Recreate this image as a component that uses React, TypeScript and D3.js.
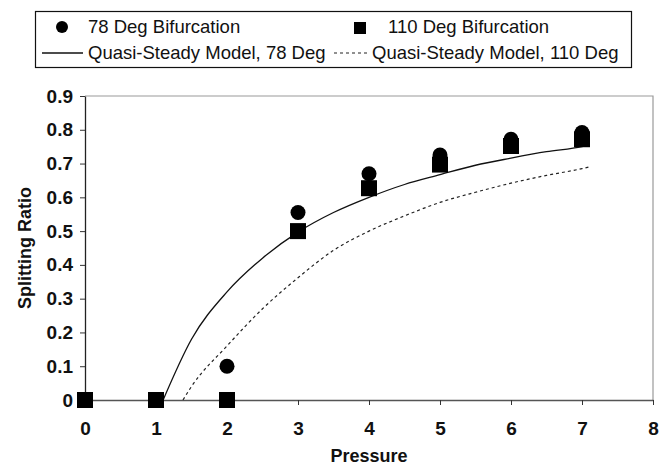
import React, { useEffect, useRef } from 'react';
import * as d3 from 'd3';

// measured splitting ratio vs pressure
const pressures = [0, 1, 2, 3, 4, 5, 6, 7];
const ratio78 = [0, 0, 0.1, 0.555, 0.67, 0.725, 0.772, 0.792];
const ratio110 = [0, 0, 0, 0.5, 0.627, 0.697, 0.752, 0.772];

// quasi-steady model curves
const model78X = [1.1, 1.5, 2, 2.5, 3, 3.5, 4, 4.5, 5, 5.5, 6, 6.5, 7, 7.1];
const model78Y = [0, 0.18, 0.32, 0.42, 0.497, 0.555, 0.6, 0.638, 0.667, 0.695, 0.716, 0.735, 0.75, 0.755];
const model110X = [1.38, 1.5, 2, 2.5, 3, 3.5, 4, 4.5, 5, 5.5, 6, 6.5, 7, 7.1];
const model110Y = [0, 0.04, 0.16, 0.27, 0.362, 0.443, 0.5, 0.545, 0.585, 0.615, 0.642, 0.665, 0.685, 0.69];

const xTicks = [0, 1, 2, 3, 4, 5, 6, 7, 8];
const yTicks = [0, 0.1, 0.2, 0.3, 0.4, 0.5, 0.6, 0.7, 0.8, 0.9];

const App = () => {
  const ref = useRef<SVGSVGElement>(null);

  useEffect(() => {
    const svg = d3.select(ref.current);
    svg.selectAll('*').remove();

    const width = 667;
    const height = 466;
    const margin = { top: 96, right: 14, bottom: 66, left: 85 };
    const font = 'Arial, "Liberation Sans", sans-serif';

    svg.attr('width', width).attr('height', height);

    const x = d3.scaleLinear().domain([0, 8]).range([margin.left, width - margin.right]);
    const y = d3.scaleLinear().domain([0, 0.9]).range([height - margin.bottom, margin.top]);

    // plot area border (top / right)
    svg.append('path')
      .attr('d', `M${x(0)},${y(0.9)}H${x(8)}V${y(0)}`)
      .attr('fill', 'none')
      .attr('stroke', '#9a9a9a')
      .attr('stroke-width', 1.2);

    const yAxis = svg.append('g')
      .attr('transform', `translate(${x(0)},0)`)
      .call(d3.axisLeft(y).tickValues(yTicks).tickSize(5).tickSizeOuter(0).tickPadding(7)
        .tickFormat(d => (d === 0 ? '0' : d3.format('.1f')(d as number))));
    yAxis.select('.domain').attr('stroke', '#222').attr('stroke-width', 1.3);
    yAxis.selectAll('line').attr('stroke', '#333');
    yAxis.selectAll('text')
      .style('font-family', font)
      .style('font-size', '19px')
      .style('font-weight', 'bold')
      .attr('fill', '#111');

    const xAxis = svg.append('g')
      .attr('transform', `translate(0,${y(0)})`)
      .call(d3.axisBottom(x).tickValues(xTicks).tickSize(5).tickSizeOuter(0).tickPadding(17));
    xAxis.select('.domain').attr('stroke', '#555').attr('stroke-width', 1.5);
    xAxis.selectAll('line').attr('stroke', '#333');
    xAxis.selectAll('text')
      .style('font-family', font)
      .style('font-size', '19px')
      .style('font-weight', 'bold')
      .attr('fill', '#111');

    // axis titles
    svg.append('text')
      .attr('x', (x(0) + x(8)) / 2)
      .attr('y', 462)
      .attr('text-anchor', 'middle')
      .style('font-family', font)
      .style('font-size', '18px')
      .style('font-weight', 'bold')
      .attr('fill', '#111')
      .text('Pressure');

    svg.append('text')
      .attr('transform', `translate(31,${(y(0) + y(0.9)) / 2}) rotate(-90)`)
      .attr('text-anchor', 'middle')
      .style('font-family', font)
      .style('font-size', '18px')
      .style('font-weight', 'bold')
      .attr('fill', '#111')
      .text('Splitting Ratio');

    // model curves
    const line = d3.line<[number, number]>()
      .x(d => x(d[0]))
      .y(d => y(d[1]))
      .curve(d3.curveMonotoneX);

    svg.append('path')
      .datum(model78X.map((v, i) => [v, model78Y[i]] as [number, number]))
      .attr('d', line)
      .attr('fill', 'none')
      .attr('stroke', '#111')
      .attr('stroke-width', 1.3);

    svg.append('path')
      .datum(model110X.map((v, i) => [v, model110Y[i]] as [number, number]))
      .attr('d', line)
      .attr('fill', 'none')
      .attr('stroke', '#222')
      .attr('stroke-width', 1.2)
      .attr('stroke-dasharray', '3,3');

    // measured points: circles first, squares over them
    svg.append('g')
      .selectAll('circle')
      .data(pressures)
      .enter()
      .append('circle')
      .attr('cx', d => x(d))
      .attr('cy', (d, i) => y(ratio78[i]))
      .attr('r', 7.5)
      .attr('fill', '#000');

    const sq = 16;
    svg.append('g')
      .selectAll('rect')
      .data(pressures)
      .enter()
      .append('rect')
      .attr('x', d => x(d) - sq / 2)
      .attr('y', (d, i) => y(ratio110[i]) - sq / 2)
      .attr('width', sq)
      .attr('height', sq)
      .attr('fill', '#000');

    // legend
    const legend = svg.append('g');
    legend.append('rect')
      .attr('x', 35.5)
      .attr('y', 11.5)
      .attr('width', 596)
      .attr('height', 56)
      .attr('fill', '#fff')
      .attr('stroke', '#111')
      .attr('stroke-width', 1.2);

    legend.append('circle').attr('cx', 62).attr('cy', 27).attr('r', 6).attr('fill', '#000');
    legend.append('rect').attr('x', 354).attr('y', 22).attr('width', 12).attr('height', 12).attr('fill', '#000');
    legend.append('line').attr('x1', 42).attr('x2', 83).attr('y1', 53).attr('y2', 53)
      .attr('stroke', '#111').attr('stroke-width', 1.3);
    legend.append('line').attr('x1', 334).attr('x2', 369).attr('y1', 53).attr('y2', 53)
      .attr('stroke', '#222').attr('stroke-width', 1.2).attr('stroke-dasharray', '3,3');

    const legendText = [
      { label: '78 Deg Bifurcation', x: 88, y: 33 },
      { label: '110 Deg Bifurcation', x: 388, y: 33 },
      { label: 'Quasi-Steady Model, 78 Deg', x: 88, y: 59 },
      { label: 'Quasi-Steady Model, 110 Deg', x: 372, y: 59 }
    ];
    legend.selectAll('.legend-label')
      .data(legendText)
      .enter()
      .append('text')
      .attr('class', 'legend-label')
      .attr('x', d => d.x)
      .attr('y', d => d.y)
      .style('font-family', font)
      .style('font-size', '18.5px')
      .attr('fill', '#111')
      .text(d => d.label);
  }, []);

  return (
    <div style={{ position: 'absolute', left: 0, top: 0 }}>
      <svg ref={ref}></svg>
    </div>
  );
};

export default App;
